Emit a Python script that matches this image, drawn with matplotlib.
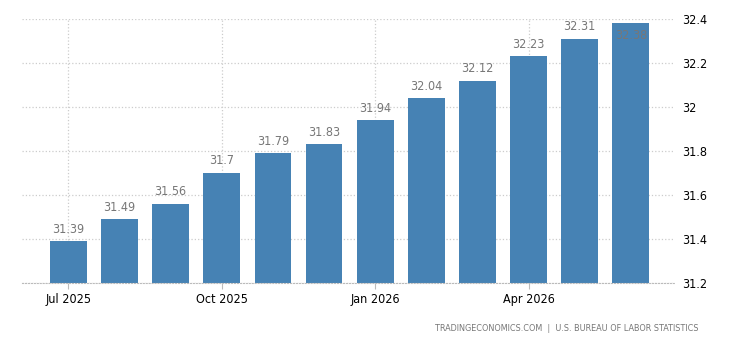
import numpy as np
import matplotlib.pyplot as plt

months = ['Jul 2025', 'Aug 2025', 'Sep 2025', 'Oct 2025', 'Nov 2025', 'Dec 2025',
          'Jan 2026', 'Feb 2026', 'Mar 2026', 'Apr 2026', 'May 2026', 'Jun 2026']
values = [31.39, 31.49, 31.56, 31.7, 31.79, 31.83, 31.94, 32.04, 32.12, 32.23, 32.31, 32.38]
tick_idx = [0, 3, 6, 9]
yticks = [31.2, 31.4, 31.6, 31.8, 32, 32.2, 32.4]

plt.rcParams['font.family'] = ['DejaVu Sans']
fig = plt.figure(figsize=(7.3, 3.4), dpi=100)
ax = fig.add_axes([0.030, 0.168, 0.895, 0.776])

x = np.arange(len(values))
ymin, ymax = 31.2, 32.4
ax.bar(x, np.array(values) - ymin, bottom=ymin, width=0.72, color='#4682b4', zorder=2)

# value labels (the one that would go past the top sits inside the bar)
for xi, v in zip(x, values):
    lbl = f'{v:g}'
    if v + 0.07 > ymax:
        ax.text(xi, v - 0.025, lbl, ha='center', va='top', fontsize=9, color='#777777',
                fontstretch='condensed', zorder=3)
    else:
        ax.text(xi, v + 0.025, lbl, ha='center', va='bottom', fontsize=9, color='#777777',
                fontstretch='condensed', zorder=3)

ax.set_xlim(-0.91, 11.87)
ax.set_ylim(ymin, ymax)
ax.set_xticks(tick_idx)
ax.set_xticklabels([months[i] for i in tick_idx], fontsize=9, fontstretch='condensed')
ax.set_yticks(yticks)
ax.set_yticklabels([f'{t:g}' for t in yticks], fontsize=9, fontstretch='condensed')
ax.yaxis.tick_right()
ax.tick_params(axis='y', length=0, pad=5)
ax.tick_params(axis='x', length=4, color='#bbbbbb', pad=3)

for s in ['top', 'right', 'left']:
    ax.spines[s].set_visible(False)
ax.spines['bottom'].set_linestyle(':')
ax.spines['bottom'].set_color('#bbbbbb')

ax.set_axisbelow(True)
ax.grid(True, linestyle=':', color='#cccccc', linewidth=0.9)

fig.text(0.957, 0.035, 'TRADINGECONOMICS.COM  |  U.S. BUREAU OF LABOR STATISTICS',
         ha='right', va='center', fontsize=6.5, color='#777777', fontstretch='condensed')

fig.savefig('out.png')
